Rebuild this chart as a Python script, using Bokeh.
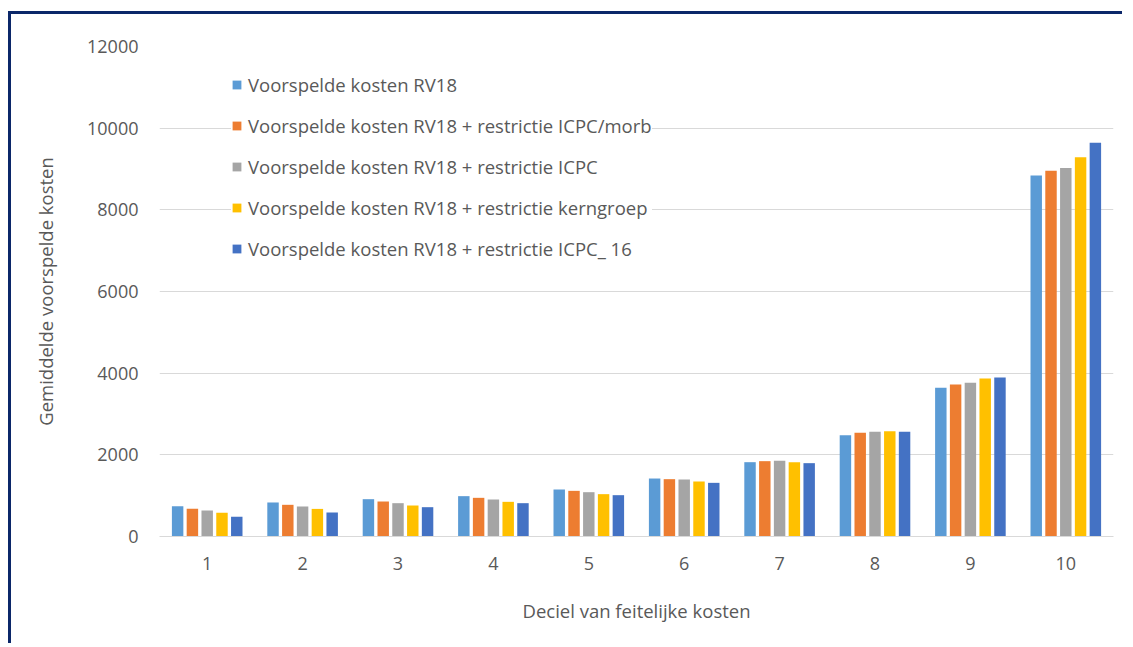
from bokeh.plotting import figure
from bokeh.models import ColumnDataSource, FactorRange, Legend, LegendItem, FixedTicker
from bokeh.transform import dodge
from bokeh.embed import file_html
from bokeh.resources import INLINE

deciles = ["1", "2", "3", "4", "5", "6", "7", "8", "9", "10"]
series_names = [
    "Voorspelde kosten RV18",
    "Voorspelde kosten RV18 + restrictie ICPC/morb",
    "Voorspelde kosten RV18 + restrictie ICPC",
    "Voorspelde kosten RV18 + restrictie kerngroep",
    "Voorspelde kosten RV18 + restrictie ICPC_ 16",
]
rv18 = [742, 833, 914, 988, 1151, 1420, 1820, 2481, 3641, 8841]
icpc_morb = [678, 776, 857, 947, 1118, 1404, 1845, 2539, 3723, 8956]
icpc = [637, 735, 816, 906, 1085, 1396, 1853, 2563, 3764, 9022]
kerngroep = [580, 676, 759, 849, 1037, 1347, 1820, 2580, 3870, 9290]
icpc_16 = [482, 588, 718, 816, 1012, 1314, 1796, 2563, 3894, 9642]
colors = ["#5b9bd5", "#ed7d31", "#a5a5a5", "#ffc000", "#4472c4"]
y_ticks = [0, 2000, 4000, 6000, 8000, 10000, 12000]

keys = ["s0", "s1", "s2", "s3", "s4"]
source = ColumnDataSource(data=dict(decile=deciles, s0=rv18, s1=icpc_morb,
                                    s2=icpc, s3=kerngroep, s4=icpc_16))

FONT = "Open Sans"
TXT = "#595959"

p = figure(x_range=FactorRange(*deciles), y_range=(0, 12000),
           width=1114, height=632, output_backend="svg", toolbar_location=None,
           min_border_left=148, min_border_right=12, min_border_top=32, min_border_bottom=110)
p.margin = (11, 0, 0, 8)
p.styles = {"border-top": "3px solid #0b2769", "border-left": "3px solid #0b2769"}
p.outline_line_color = None
p.background_fill_color = "white"
p.border_fill_color = "white"

offsets = [-0.31, -0.155, 0.0, 0.155, 0.31]
renderers = []
for k, off, c in zip(keys, offsets, colors):
    r = p.vbar(x=dodge("decile", off, range=p.x_range), top=k, width=0.12,
               source=source, fill_color=c, line_color=None)
    renderers.append(r)

p.x_range.range_padding = 0
p.x_range.factor_padding = 0

p.yaxis.ticker = FixedTicker(ticks=y_ticks)
p.ygrid.grid_line_color = "#d9d9d9"
p.xgrid.grid_line_color = None
p.yaxis.axis_line_color = None
p.yaxis.major_tick_line_color = None
p.yaxis.minor_tick_line_color = None
p.xaxis.major_tick_line_color = None
p.xaxis.axis_line_color = "#d9d9d9"
p.xaxis.major_label_standoff = 14
p.yaxis.major_label_standoff = 15

for ax in (p.xaxis, p.yaxis):
    ax.major_label_text_font = FONT
    ax.major_label_text_font_size = "18px"
    ax.major_label_text_color = TXT
    ax.axis_label_text_font = FONT
    ax.axis_label_text_font_size = "18.5px"
    ax.axis_label_text_font_style = "normal"
    ax.axis_label_text_color = TXT

p.xaxis.axis_label = "Deciel van feitelijke kosten"
p.yaxis.axis_label = "Gemiddelde voorspelde kosten"
p.xaxis.axis_label_standoff = 25
p.yaxis.axis_label_standoff = 26

legend = Legend(items=[LegendItem(label=n, renderers=[r]) for n, r in zip(series_names, renderers)],
                location=(72, 275), orientation="vertical")
legend.label_text_font = FONT
legend.label_text_font_size = "18.5px"
legend.label_text_color = TXT
legend.glyph_width = 11
legend.glyph_height = 11
legend.label_height = 20
legend.spacing = 16
legend.padding = 10
legend.label_standoff = 6
legend.border_line_color = None
legend.background_fill_color = "white"
legend.background_fill_alpha = 1.0
p.add_layout(legend, "center")

open("out.html", "w").write(file_html(p, INLINE))
